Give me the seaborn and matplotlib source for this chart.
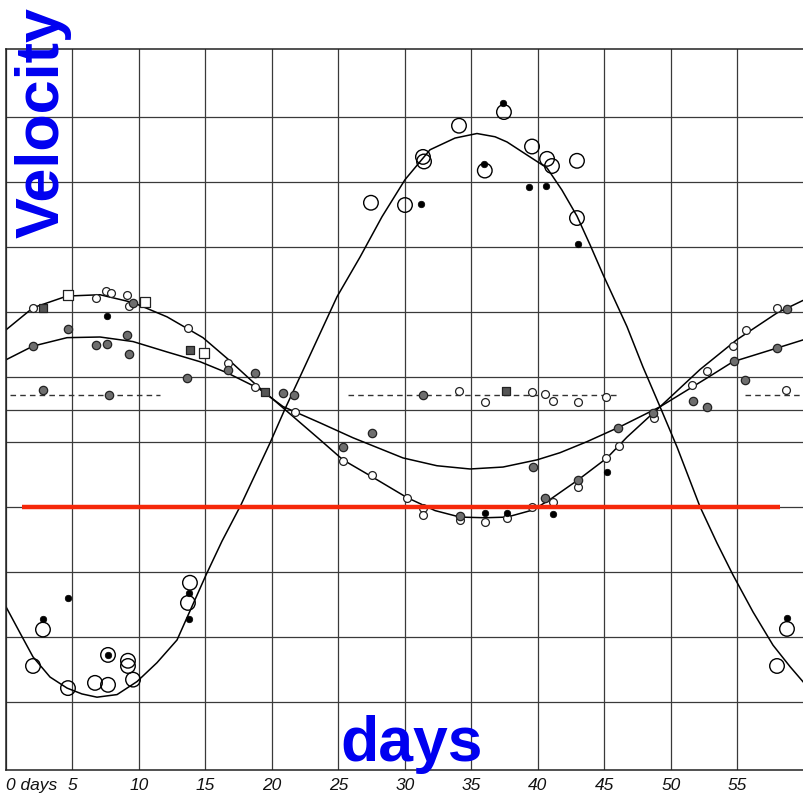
import matplotlib
matplotlib.use("Agg")
import matplotlib.pyplot as plt
import seaborn as sns

# fitted velocity curves (days, km/s)
big_days = [0.0, 1.05, 2.03, 3.31, 4.59, 5.71, 6.84, 8.35, 9.85, 11.35, 12.86, 15.04,
            16.24, 17.67, 19.85, 20.98, 22.11, 24.89, 26.62, 28.27, 30.0, 31.88, 33.76,
            35.41, 36.77, 37.67, 39.17, 40.68, 41.8, 42.93, 43.91, 44.89, 46.69, 47.89,
            49.17, 50.45, 52.18, 53.46, 54.66, 56.17, 57.67, 58.95, 60.0]
big_vel = [-30.3, -34.3, -38.0, -41.1, -42.8, -43.7, -44.2, -43.8, -41.8, -38.9, -35.4, -25.4,
           -20.2, -14.6, -5.1, 0.15, 5.1, 17.4, 23.5, 29.7, 35.4, 40.0, 41.8,
           42.5, 42.0, 41.2, 39.2, 37.2, 33.8, 29.8, 25.4, 20.8, 12.8, 6.6,
           0.5, -5.7, -14.9, -20.5, -25.4, -31.1, -36.2, -39.5, -42.0]

mid_days = [0.0, 2.03, 4.59, 7.07, 9.55, 12.11, 14.81, 16.69, 18.72, 20.83, 23.61, 25.34,
            27.52, 30.15, 32.26, 34.14, 36.02, 37.67, 39.62, 40.9, 43.0, 45.19, 46.69,
            49.17, 52.18, 54.96, 57.97, 60.0]
mid_vel = [12.3, 15.7, 17.5, 17.7, 16.5, 14.3, 11.1, 7.8, 4.0, 0.3, -4.6, -7.7,
           -10.3, -13.5, -15.5, -16.5, -16.6, -16.5, -15.4, -13.8, -10.8, -7.4, -4.2,
           0.46, 6.2, 10.8, 14.9, 16.9]

small_days = [0.0, 2.03, 4.59, 7.07, 9.55, 12.11, 14.59, 16.62, 18.98, 20.83, 23.61, 26.09,
              29.85, 32.4, 34.89, 37.37, 39.92, 41.65, 43.68, 46.17, 49.17, 52.71, 54.66,
              57.97, 60.0]
small_vel = [7.7, 9.8, 11.1, 11.2, 10.5, 8.9, 7.4, 5.7, 3.3, 0.5, -2.0, -4.3,
             -7.4, -8.6, -9.1, -8.8, -7.7, -6.6, -4.9, -2.6, 0.46, 4.9, 7.4,
             9.5, 10.8]

# constant velocity of the third spectrum (dashed), with its day spans
dash_level = 2.3
dash_start = [0.3, 25.7, 55.6]
dash_end = [11.6, 46.2, 60.0]

# observed points
big_open_days = [27.44, 30.0, 31.35, 31.43, 34.06, 37.44, 36.0, 39.55, 40.68, 41.05, 42.93,
                 42.93, 2.03, 2.78, 4.66, 6.69, 7.67, 7.67, 9.17, 9.17, 9.55, 13.83, 13.68,
                 58.72, 57.97]
big_open_vel = [31.85, 31.5, 38.9, 38.2, 43.7, 45.8, 36.8, 40.5, 38.6, 37.5, 38.3,
                29.5, -39.4, -33.8, -42.8, -42.0, -42.3, -37.7, -38.6, -39.4, -41.5, -26.6, -29.7,
                -33.7, -39.4]

dot_days = [31.2, 37.37, 35.94, 39.32, 40.6, 43.0, 2.78, 4.66, 7.67, 13.76, 13.76, 58.72,
            7.59, 36.0, 37.67, 45.19, 41.13]
dot_vel = [31.7, 47.2, 37.8, 34.2, 34.5, 25.5, -32.2, -28.9, -37.7, -28.2, -32.2, -32.0,
           14.5, -15.8, -15.8, -9.5, -16.0]

half_days = [9.55, 4.66, 2.03, 6.77, 7.59, 9.1, 9.25, 13.6, 16.69, 18.72, 20.83, 21.65,
             25.34, 27.52, 34.14, 39.62, 40.53, 43.0, 46.0, 48.65, 51.65, 52.7, 54.7, 55.6,
             57.97, 58.72, 2.78, 7.74, 31.35]
half_vel = [16.5, 12.5, 9.8, 10.0, 10.2, 11.5, 8.6, 4.9, 6.2, 5.7, 2.6, 2.3,
            -5.7, -3.5, -16.3, -8.8, -13.5, -10.8, -2.8, -0.5, 1.4, 0.5, 7.5, 4.6,
            9.5, 15.5, 3.1, 2.3, 2.3]

small_open_days = [2.03, 6.77, 7.52, 7.89, 9.1, 9.25, 13.68, 16.69, 18.72, 21.73, 25.34, 27.52,
                   30.15, 31.35, 31.35, 34.14, 36.0, 37.67, 39.55, 41.13, 43.0, 45.1, 46.1,
                   48.7, 51.58, 52.7, 54.66, 55.64, 57.97, 36.0, 39.55, 40.53, 41.13, 43.0,
                   45.1, 58.65, 34.06]
small_open_vel = [15.7, 17.2, 18.3, 18.0, 17.7, 16.0, 12.6, 7.2, 3.5, -0.3, -7.8, -10.0,
                  -13.5, -15.1, -16.2, -16.9, -17.2, -16.6, -14.9, -14.2, -11.8, -7.4, -5.5,
                  -1.2, 3.8, 6.0, 9.8, 12.3, 15.7, 1.2, 2.8, 2.5, 1.4, 1.2,
                  2.0, 3.1, 2.9]

square_days = [4.66, 10.45, 14.89]
square_vel = [17.7, 16.6, 8.8]
dark_square_days = [2.78, 13.83, 19.47, 37.6]
dark_square_vel = [15.7, 9.2, 2.8, 2.9]

# the red marker line
red_level = -14.9
red_start, red_end = 1.2, 58.2

x_ticks = [0, 5, 10, 15, 20, 25, 30, 35, 40, 45, 50, 55]
x_labels = ["0 days", "5", "10", "15", "20", "25", "30", "35", "40", "45", "50", "55"]
y_grid = [-45, -35, -25, -15, -5, 0, 5, 15, 25, 35, 45]

sns.set_theme(style="white")
plt.rcParams["font.family"] = ["Liberation Sans", "DejaVu Sans"]

fig = plt.figure(figsize=(8.04, 7.95), dpi=100)
ax = fig.add_axes([6 / 804, 25 / 795, 798 / 804, 721 / 795])

ax.set_xlim(0, 60)
ax.set_ylim(-55.4, 55.5)

ax.set_xticks(x_ticks)
ax.set_xticklabels(x_labels, fontstyle="italic", fontsize=12.5, color="#111111")
ax.get_xticklabels()[0].set_horizontalalignment("left")
ax.set_yticks(y_grid)
ax.set_yticklabels([])
ax.tick_params(axis="both", length=0)
ax.tick_params(axis="x", pad=6)
ax.grid(True, color="#3a3a3a", linewidth=0.9)
ax.set_axisbelow(True)
for side in ["top", "left", "bottom"]:
    ax.spines[side].set_color("#222222")
    ax.spines[side].set_linewidth(1.1)
ax.spines["right"].set_visible(False)

for d, v in [(big_days, big_vel), (mid_days, mid_vel), (small_days, small_vel)]:
    sns.lineplot(x=d, y=v, ax=ax, color="black", linewidth=1.1,
                 estimator=None, sort=False, zorder=2)

ax.hlines([dash_level] * len(dash_start), dash_start, dash_end,
          colors="#333333", linestyles=(0, (4, 3)), linewidth=1.0, zorder=2)

sns.scatterplot(x=big_open_days, y=big_open_vel, ax=ax, s=110, color="none",
                edgecolor="black", linewidth=1.0, zorder=3)
sns.scatterplot(x=small_open_days, y=small_open_vel, ax=ax, s=32, color="white",
                edgecolor="#222222", linewidth=0.9, zorder=3)
sns.scatterplot(x=half_days, y=half_vel, ax=ax, s=36, color="#6e6e6e",
                edgecolor="#222222", linewidth=0.9, zorder=3)
sns.scatterplot(x=square_days, y=square_vel, ax=ax, s=42, marker="s", color="white",
                edgecolor="#222222", linewidth=0.9, zorder=3)
sns.scatterplot(x=dark_square_days, y=dark_square_vel, ax=ax, s=40, marker="s",
                color="#555555", edgecolor="#222222", linewidth=0.9, zorder=3)
sns.scatterplot(x=dot_days, y=dot_vel, ax=ax, s=22, color="black",
                edgecolor="black", linewidth=0.5, zorder=4)

ax.hlines(red_level, red_start, red_end, colors="#f5280a", linewidth=3.2, zorder=5)

ax.set_xlabel("")
ax.set_ylabel("")

fig.text(43 / 804, 1 - 122 / 795, "Velocity", rotation=90, ha="center", va="center",
         fontsize=44, fontweight="bold", color="#0000f0")
fig.text(412 / 804, 1 - 761 / 795, "days", ha="center", va="baseline",
         fontsize=45, fontweight="bold", color="#0000f0")

fig.savefig("out.png", dpi=100)
